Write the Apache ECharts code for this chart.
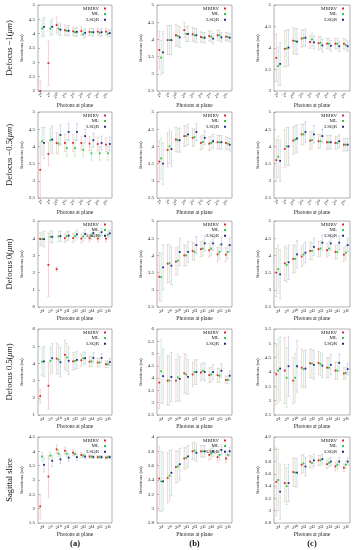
<!DOCTYPE html>
<html><head><meta charset="utf-8">
<script src="https://cdn.jsdelivr.net/npm/echarts@6/dist/echarts.min.js"></script>
<style>html,body{margin:0;padding:0;background:#fff}#c{width:359px;height:550px}</style>
</head><body><div id="c"></div>
<script>
// ---------- categories, labels ----------
const categories = ['2⁸','2⁹','2¹⁰','2¹¹','2¹²','2¹³','2¹⁴','2¹⁵','2¹⁶'];
const seriesNames = ['MBIRV','ML','LSQR'];
const rowLabels = ['Defocus −1({i|μm})','Defocus −0.5({i|μm})','Defocus 0({i|μm})','Defocus 0.5({i|μm})','Sagittal slice'];
const colLabels = ['(a)','(b)','(c)'];
const xName = 'Photons at plane';
const yName = 'Iterations (m)';
// y-axis tick ranges per row [a,b,c]
const yMinRows = [[2,2.5,3],[2.5,2.5,2.5],[0,2.5,2.5],[1,2.5,2.5],[1.5,2.8,2.8]];
const yMaxRows = [[5,5,5],[5,5,5],[5,5,5],[6,6,5.5],[4.5,4,4.2]];
const yStepRows = [[0.5,0.5,0.5],[0.5,0.5,0.5],[1,0.5,0.5],[1,0.5,0.5],[0.5,0.2,0.2]];

// ---------- Row 1: Defocus -1 ----------
const r1a_MBIRV = [2.00,2.97,4.30,4.12,4.08,4.09,4.06,4.07,4.07];
const r1a_MBIRV_err = [0.35,0.78,0.28,0.18,0.15,0.15,0.13,0.12,0.12];
const r1a_ML = [4.18,4.18,4.17,4.10,4.05,3.98,4.05,4.03,4.00];
const r1a_ML_err = [0.30,0.25,0.20,0.17,0.15,0.15,0.13,0.12,0.12];
const r1a_LSQR = [4.24,4.24,4.14,4.10,4.06,4.03,4.05,4.05,4.02];
const r1a_LSQR_err = [0.32,0.27,0.20,0.17,0.15,0.14,0.13,0.12,0.12];

const r1b_MBIRV = [3.69,3.98,4.12,4.27,4.15,4.07,4.10,4.12,4.08];
const r1b_MBIRV_err = [0.55,0.42,0.32,0.22,0.20,0.15,0.15,0.15,0.12];
const r1b_ML = [3.47,3.98,4.10,4.16,4.12,4.05,4.08,4.12,4.07];
const r1b_ML_err = [0.50,0.42,0.30,0.22,0.20,0.15,0.15,0.15,0.12];
const r1b_LSQR = [3.62,3.98,4.06,4.16,4.12,4.05,4.02,4.06,4.05];
const r1b_LSQR_err = [0.60,0.42,0.30,0.22,0.20,0.15,0.15,0.14,0.12];

const r1c_MBIRV = [3.77,3.98,4.17,4.22,4.14,4.11,4.10,4.10,4.10];
const r1c_MBIRV_err = [0.55,0.42,0.30,0.20,0.15,0.15,0.12,0.12,0.12];
const r1c_ML = [3.58,3.99,4.16,4.23,4.20,4.12,4.10,4.10,4.07];
const r1c_ML_err = [0.45,0.42,0.30,0.20,0.15,0.15,0.12,0.12,0.12];
const r1c_LSQR = [3.63,4.01,4.15,4.24,4.13,4.06,4.05,4.04,4.04];
const r1c_LSQR_err = [0.50,0.42,0.30,0.20,0.15,0.15,0.12,0.12,0.12];

// ---------- Row 2: Defocus -0.5 ----------
const r2a_MBIRV = [3.32,3.78,4.10,4.10,4.10,4.10,4.08,4.07,4.05];
const r2a_MBIRV_err = [0.80,0.35,0.30,0.25,0.25,0.20,0.20,0.20,0.20];
const r2a_ML = [4.15,4.18,4.08,3.95,3.95,3.90,3.80,3.80,3.80];
const r2a_ML_err = [0.40,0.35,0.30,0.25,0.25,0.20,0.20,0.20,0.20];
const r2a_LSQR = [4.10,4.20,4.33,4.42,4.42,4.30,4.18,4.10,4.07];
const r2a_LSQR_err = [0.45,0.40,0.30,0.25,0.25,0.20,0.20,0.20,0.20];

const r2b_MBIRV = [3.56,3.90,4.20,4.30,4.25,4.10,4.08,4.12,4.10];
const r2b_MBIRV_err = [0.60,0.50,0.35,0.30,0.25,0.20,0.20,0.20,0.18];
const r2b_ML = [3.65,4.00,4.18,4.30,4.27,4.13,4.10,4.12,4.08];
const r2b_ML_err = [0.60,0.50,0.35,0.30,0.25,0.20,0.20,0.20,0.18];
const r2b_LSQR = [3.50,3.92,4.18,4.35,4.42,4.25,4.15,4.12,4.05];
const r2b_LSQR_err = [0.60,0.50,0.35,0.30,0.25,0.20,0.20,0.20,0.18];

const r2c_MBIRV = [3.60,3.93,4.17,4.35,4.17,4.15,4.12,4.10,4.05];
const r2c_MBIRV_err = [0.60,0.55,0.40,0.30,0.25,0.20,0.20,0.18,0.18];
const r2c_ML = [3.70,4.00,4.20,4.35,4.18,4.15,4.12,4.10,4.05];
const r2c_ML_err = [0.60,0.55,0.40,0.30,0.25,0.20,0.20,0.18,0.18];
const r2c_LSQR = [3.58,4.00,4.23,4.42,4.35,4.30,4.12,4.15,4.05];
const r2c_LSQR_err = [0.60,0.55,0.40,0.30,0.25,0.20,0.20,0.18,0.18];

// ---------- Row 3: Defocus 0 ----------
const r3a_MBIRV = [3.95,2.45,2.20,4.00,4.00,3.98,4.00,3.98,3.98];
const r3a_MBIRV_err = [0.35,1.85,0.12,0.25,0.25,0.25,0.20,0.20,0.20];
const r3a_ML = [3.95,4.08,4.10,4.12,4.12,4.10,4.12,4.15,4.20];
const r3a_ML_err = [0.40,0.35,0.30,0.25,0.25,0.25,0.20,0.20,0.20];
const r3a_LSQR = [3.95,4.08,4.12,4.15,4.22,4.25,4.30,4.35,4.28];
const r3a_LSQR_err = [0.45,0.35,0.30,0.25,0.25,0.25,0.20,0.20,0.20];

const r3b_MBIRV = [3.38,3.76,3.82,4.00,4.13,4.18,4.15,4.03,4.02];
const r3b_MBIRV_err = [0.70,0.55,0.40,0.30,0.25,0.22,0.20,0.20,0.20];
const r3b_ML = [3.37,3.77,3.85,4.00,4.10,4.20,4.20,4.10,4.10];
const r3b_ML_err = [0.70,0.55,0.40,0.30,0.25,0.22,0.20,0.20,0.20];
const r3b_LSQR = [3.65,3.70,4.10,4.10,4.30,4.35,4.35,4.32,4.30];
const r3b_LSQR_err = [0.65,0.55,0.40,0.30,0.25,0.22,0.20,0.20,0.20];

const r3c_MBIRV = [3.50,3.77,3.90,3.97,4.13,4.18,4.15,4.10,4.02];
const r3c_MBIRV_err = [0.70,0.50,0.40,0.30,0.25,0.22,0.20,0.20,0.20];
const r3c_ML = [3.60,3.72,3.90,4.03,4.13,4.20,4.20,4.10,4.08];
const r3c_ML_err = [0.70,0.50,0.40,0.30,0.25,0.22,0.20,0.20,0.20];
const r3c_LSQR = [3.45,3.80,4.03,4.08,4.25,4.37,4.35,4.37,4.30];
const r3c_LSQR_err = [0.70,0.50,0.40,0.30,0.25,0.22,0.20,0.20,0.20];

// ---------- Row 4: Defocus 0.5 ----------
const r4a_MBIRV = [2.10,2.70,4.28,4.50,4.12,4.18,4.10,4.05,3.95];
const r4a_MBIRV_err = [0.38,1.35,0.90,0.85,0.50,0.35,0.30,0.25,0.20];
const r4a_ML = [4.10,4.15,4.22,4.35,4.15,4.30,4.12,4.05,3.95];
const r4a_ML_err = [0.80,0.80,0.85,0.80,0.50,0.35,0.30,0.25,0.20];
const r4a_LSQR = [4.12,4.30,4.07,4.15,4.20,4.30,4.32,4.32,4.08];
const r4a_LSQR_err = [0.88,0.85,0.85,0.80,0.50,0.35,0.30,0.25,0.20];

const r4b_MBIRV = [3.82,3.90,3.90,4.20,4.15,4.23,4.12,4.12,3.93];
const r4b_MBIRV_err = [1.05,1.00,0.85,0.80,0.50,0.35,0.30,0.28,0.15];
const r4b_ML = [4.28,3.90,4.03,4.15,4.25,4.30,4.15,4.10,3.93];
const r4b_ML_err = [1.30,1.00,0.95,0.80,0.50,0.35,0.30,0.28,0.15];
const r4b_LSQR = [4.08,4.05,3.97,4.05,4.25,4.25,4.25,4.30,4.10];
const r4b_LSQR_err = [1.10,1.00,0.90,0.70,0.50,0.35,0.30,0.28,0.20];

const r4c_MBIRV = [3.92,4.05,3.70,4.15,4.30,4.32,4.15,4.05,3.95];
const r4c_MBIRV_err = [1.05,1.15,0.80,0.65,0.50,0.40,0.35,0.30,0.20];
const r4c_ML = [4.05,3.80,3.80,4.10,4.30,4.28,4.15,4.05,3.97];
const r4c_ML_err = [1.10,1.05,0.85,0.65,0.50,0.40,0.35,0.30,0.20];
const r4c_LSQR = [4.12,4.20,4.20,4.12,4.25,4.22,4.25,4.32,4.10];
const r4c_LSQR_err = [1.10,1.05,0.90,0.65,0.50,0.40,0.35,0.30,0.20];

// ---------- Row 5: Sagittal slice ----------
const r5a_MBIRV = [2.08,3.12,4.07,4.02,3.95,3.87,3.82,3.80,3.78];
const r5a_MBIRV_err = [0.42,0.72,0.15,0.12,0.10,0.08,0.06,0.05,0.05];
const r5a_ML = [3.82,3.85,3.92,3.92,3.90,3.85,3.82,3.80,3.80];
const r5a_ML_err = [0.15,0.12,0.12,0.10,0.08,0.07,0.06,0.05,0.05];
const r5a_LSQR = [3.53,3.67,3.72,3.78,3.80,3.82,3.80,3.80,3.80];
const r5a_LSQR_err = [0.25,0.20,0.15,0.12,0.10,0.08,0.06,0.05,0.05];

const r5b_MBIRV = [3.42,3.43,3.58,3.70,3.80,3.80,3.75,3.72,3.70];
const r5b_MBIRV_err = [0.45,0.35,0.22,0.15,0.12,0.08,0.07,0.07,0.06];
const r5b_ML = [3.38,3.46,3.59,3.71,3.81,3.80,3.77,3.75,3.75];
const r5b_ML_err = [0.42,0.35,0.22,0.15,0.12,0.08,0.07,0.07,0.06];
const r5b_LSQR = [3.38,3.50,3.62,3.73,3.78,3.80,3.80,3.82,3.80];
const r5b_LSQR_err = [0.40,0.32,0.22,0.15,0.12,0.08,0.07,0.07,0.06];

const r5c_MBIRV = [3.47,3.45,3.63,3.75,3.80,3.82,3.76,3.72,3.70];
const r5c_MBIRV_err = [0.55,0.30,0.23,0.15,0.10,0.08,0.07,0.07,0.06];
const r5c_ML = [3.50,3.40,3.62,3.77,3.78,3.82,3.78,3.75,3.75];
const r5c_ML_err = [0.50,0.30,0.23,0.15,0.10,0.08,0.07,0.07,0.06];
const r5c_LSQR = [3.31,3.45,3.62,3.72,3.82,3.84,3.80,3.80,3.80];
const r5c_LSQR_err = [0.45,0.30,0.23,0.15,0.10,0.08,0.07,0.07,0.06];

// ---------- assemble ----------
const panelData = [
  [[r1a_MBIRV,r1a_MBIRV_err,r1a_ML,r1a_ML_err,r1a_LSQR,r1a_LSQR_err],
   [r1b_MBIRV,r1b_MBIRV_err,r1b_ML,r1b_ML_err,r1b_LSQR,r1b_LSQR_err],
   [r1c_MBIRV,r1c_MBIRV_err,r1c_ML,r1c_ML_err,r1c_LSQR,r1c_LSQR_err]],
  [[r2a_MBIRV,r2a_MBIRV_err,r2a_ML,r2a_ML_err,r2a_LSQR,r2a_LSQR_err],
   [r2b_MBIRV,r2b_MBIRV_err,r2b_ML,r2b_ML_err,r2b_LSQR,r2b_LSQR_err],
   [r2c_MBIRV,r2c_MBIRV_err,r2c_ML,r2c_ML_err,r2c_LSQR,r2c_LSQR_err]],
  [[r3a_MBIRV,r3a_MBIRV_err,r3a_ML,r3a_ML_err,r3a_LSQR,r3a_LSQR_err],
   [r3b_MBIRV,r3b_MBIRV_err,r3b_ML,r3b_ML_err,r3b_LSQR,r3b_LSQR_err],
   [r3c_MBIRV,r3c_MBIRV_err,r3c_ML,r3c_ML_err,r3c_LSQR,r3c_LSQR_err]],
  [[r4a_MBIRV,r4a_MBIRV_err,r4a_ML,r4a_ML_err,r4a_LSQR,r4a_LSQR_err],
   [r4b_MBIRV,r4b_MBIRV_err,r4b_ML,r4b_ML_err,r4b_LSQR,r4b_LSQR_err],
   [r4c_MBIRV,r4c_MBIRV_err,r4c_ML,r4c_ML_err,r4c_LSQR,r4c_LSQR_err]],
  [[r5a_MBIRV,r5a_MBIRV_err,r5a_ML,r5a_ML_err,r5a_LSQR,r5a_LSQR_err],
   [r5b_MBIRV,r5b_MBIRV_err,r5b_ML,r5b_ML_err,r5b_LSQR,r5b_LSQR_err],
   [r5c_MBIRV,r5c_MBIRV_err,r5c_ML,r5c_ML_err,r5c_LSQR,r5c_LSQR_err]]
];

const FONT = 'Liberation Serif';
const pointColors = ['#e0262a','#2fc83a','#1b2a86'];
const barColors = ['#f5bcbc','#bfe6bf','#bccbea'];
const offsets = [-1.9, 0, 1.9];
const colLeft = [38, 157, 274];
const colWidth = [74, 75, 76];
const rowTop = [5, 112, 221, 329, 437];
const rowH = 86;
const W = 359;

const grid = [], xAxis = [], yAxis = [], series = [], legend = [], graphic = [];

function barRender(offset, color) {
  return function (params, api) {
    const i = api.value(0), m = api.value(1), e = api.value(2);
    const c = api.coord([i, m]);
    const hi = api.coord([i, m + e]);
    const lo = api.coord([i, m - e]);
    const cs = params.coordSys;
    const top = cs.y, bottom = cs.y + cs.height;
    const x = c[0] + offset;
    const y1 = Math.max(hi[1], top), y2 = Math.min(lo[1], bottom);
    const ch = [{type:'line', shape:{x1:x, y1:y1, x2:x, y2:y2}, style:{stroke:color, lineWidth:0.7}}];
    if (hi[1] >= top) ch.push({type:'line', shape:{x1:x-1.2, y1:hi[1], x2:x+1.2, y2:hi[1]}, style:{stroke:color, lineWidth:0.7}});
    if (lo[1] <= bottom) ch.push({type:'line', shape:{x1:x-1.2, y1:lo[1], x2:x+1.2, y2:lo[1]}, style:{stroke:color, lineWidth:0.7}});
    return {type:'group', children: ch};
  };
}
function pointRender(offset, color) {
  return function (params, api) {
    const i = api.value(0), m = api.value(1);
    const c = api.coord([i, m]);
    return {type:'rect', shape:{x:c[0] + offset - 0.9, y:c[1] - 0.9, width:1.8, height:1.8}, style:{fill:color}};
  };
}

let gi = 0;
for (let r = 0; r < 5; r++) {
  for (let k = 0; k < 3; k++) {
    grid.push({left: colLeft[k], top: rowTop[r], width: colWidth[k], height: rowH,
      show: true, borderColor: '#8c8c8c', borderWidth: 0.7, backgroundColor: 'transparent'});
    xAxis.push({type: 'category', gridIndex: gi, data: categories, boundaryGap: true,
      axisLine: {show: false}, axisTick: {show: false}, splitLine: {show: false},
      axisLabel: {fontSize: 5, fontFamily: FONT, color: '#222', margin: 2.5, interval: 0, rotate: r < 2 ? 45 : 0},
      name: xName, nameLocation: 'middle', nameGap: r < 2 ? 10 : 8,
      nameTextStyle: {fontSize: 5.5, fontFamily: FONT, color: '#222'}});
    yAxis.push({type: 'value', gridIndex: gi, min: yMinRows[r][k], max: yMaxRows[r][k], interval: yStepRows[r][k],
      axisLine: {show: false}, splitLine: {show: false},
      axisTick: {show: true, inside: true, length: 2, lineStyle: {color: '#8c8c8c', width: 0.6}},
      axisLabel: {fontSize: 5, fontFamily: FONT, color: '#222', margin: 3},
      name: yName, nameLocation: 'middle', nameGap: 14,
      nameTextStyle: {fontSize: 5, fontFamily: FONT, color: '#222'}});
    const d = panelData[r][k];
    for (let s = 0; s < 3; s++) {
      const means = d[2*s], errs = d[2*s+1];
      const data = means.map((v, i) => [i, v, errs[i]]);
      series.push({type: 'custom', name: seriesNames[s] + ' error', xAxisIndex: gi, yAxisIndex: gi, z: 2,
        data: data, encode: {x: 0, y: 1}, renderItem: barRender(offsets[s], barColors[s]), silent: true});
    }
    for (let s = 0; s < 3; s++) {
      const means = d[2*s], errs = d[2*s+1];
      const data = means.map((v, i) => [i, v, errs[i]]);
      series.push({type: 'custom', name: seriesNames[s], xAxisIndex: gi, yAxisIndex: gi, z: 3,
        itemStyle: {color: pointColors[s]}, data: data, encode: {x: 0, y: 1},
        renderItem: pointRender(offsets[s], pointColors[s]), silent: true});
    }
    legend.push({data: seriesNames, orient: 'vertical', align: 'right', selectedMode: false,
      right: W - (colLeft[k] + colWidth[k]) + 6, top: rowTop[r] + 1, padding: 0,
      icon: 'rect', itemWidth: 2, itemHeight: 2, itemGap: 0.6,
      textStyle: {fontSize: 5, fontFamily: FONT, color: '#222', lineHeight: 4}});
    gi++;
  }
  graphic.push({type: 'text', x: 10, y: rowTop[r] + rowH / 2, rotation: Math.PI / 2,
    style: {text: rowLabels[r], fontSize: 8.5, fontFamily: FONT, fill: '#111', align: 'center', verticalAlign: 'middle',
      rich: {i: {fontSize: 8.5, fontFamily: FONT, fontStyle: 'italic', fill: '#111'}}}});
}
for (let k = 0; k < 3; k++) {
  graphic.push({type: 'text', x: colLeft[k] + colWidth[k] / 2, y: 544,
    style: {text: colLabels[k], fontSize: 8.5, fontWeight: 'bold', fontFamily: FONT, fill: '#111', align: 'center', verticalAlign: 'middle'}});
}

const chart = echarts.init(document.getElementById('c'), null, {renderer: 'canvas'});
chart.setOption({animation: false, backgroundColor: '#fff', grid, xAxis, yAxis, series, legend, graphic});
</script>
</body></html>
